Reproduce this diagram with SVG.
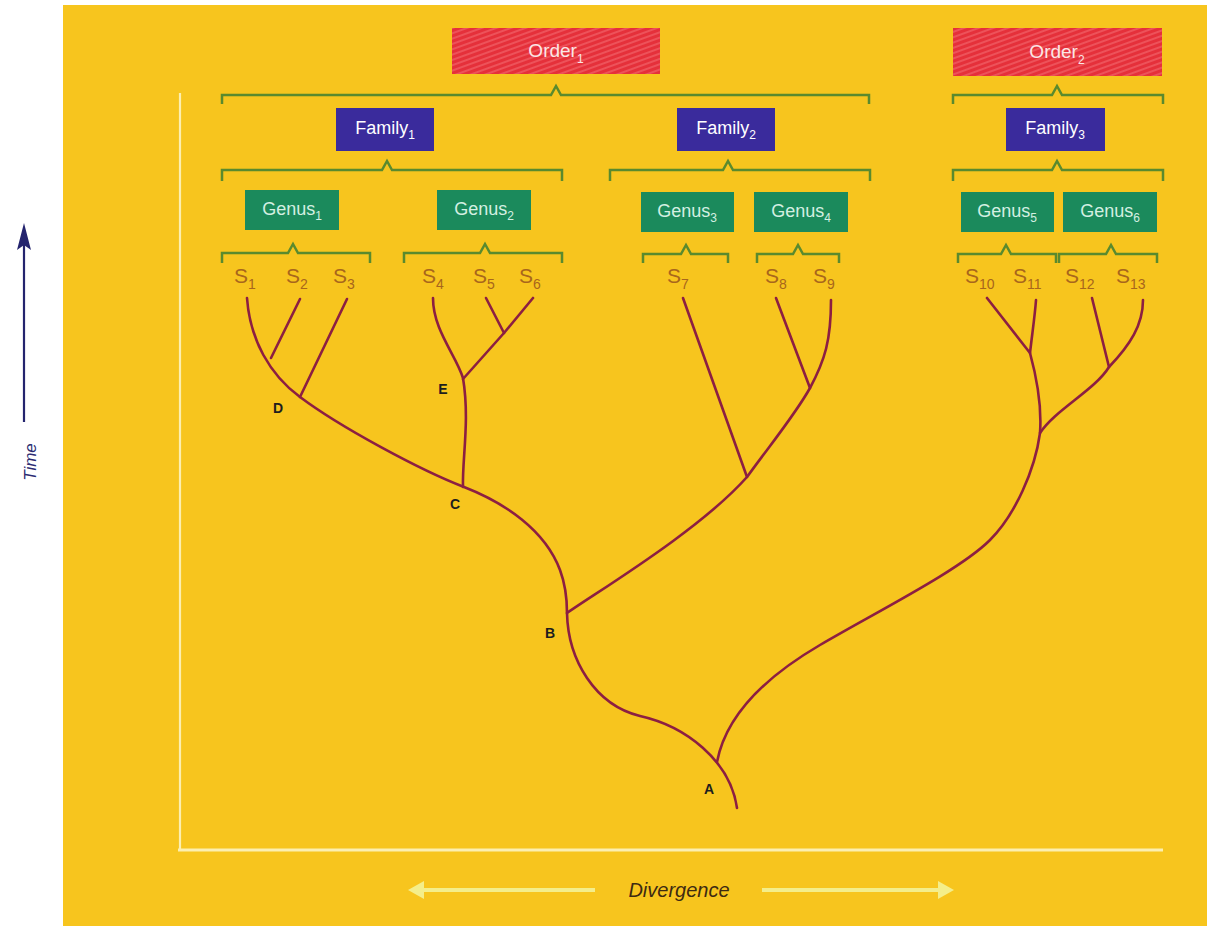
<svg xmlns="http://www.w3.org/2000/svg" width="1207" height="926" viewBox="0 0 1207 926">
<style>
.bg{fill:#f7c51e}
.order{fill:url(#hatch)}
.fam{fill:#3a2b9c}
.gen{fill:#1b8a5c}
.lbl{font-family:"Liberation Sans",Arial,sans-serif;font-size:18px;text-anchor:middle}
.ot{fill:#fbe6e6;font-size:19px}
.ft{fill:#ffffff}
.gt{fill:#d4f0e2}
.sub{font-size:12px}
.sp{font-family:"Liberation Sans",Arial,sans-serif;font-size:21px;fill:#a8661c}
.ssub{font-size:14px}
.br{fill:none;stroke:#5a8a2e;stroke-width:2.5;stroke-linejoin:miter}
.tr{fill:none;stroke:#8c1f42;stroke-width:2.6;stroke-linecap:round;stroke-linejoin:round}
.nd{font-family:"Liberation Sans",Arial,sans-serif;font-size:14px;font-weight:bold;fill:#1e1e1e;text-anchor:middle}
.ax{stroke:#fcefb0;fill:none}
</style>
<defs>
<pattern id="hatch" width="5" height="5" patternUnits="userSpaceOnUse" patternTransform="rotate(-20)">
<rect width="5" height="5" fill="#e5303a"/>
<line x1="0" y1="1" x2="5" y2="1" stroke="#f2656b" stroke-width="1.3"/>
</pattern>
<marker id="tah" markerWidth="14" markerHeight="26" refX="7" refY="2" orient="auto-start-reverse" markerUnits="userSpaceOnUse" viewBox="0 0 14 26">
<path d="M7,0 L14,26 L7,22 L0,26 Z" fill="#24246e"/>
</marker>
</defs>
<rect x="0" y="0" width="1207" height="926" fill="#ffffff"/>
<rect class="bg" x="63" y="5" width="1144" height="921"/>

<g id="axes">
<line class="ax" x1="180" y1="93" x2="180" y2="850" stroke-width="2.2"/>
<line class="ax" x1="178" y1="850" x2="1163" y2="850" stroke-width="3"/>
</g>

<g id="time-axis">
<line x1="24" y1="422" x2="24" y2="240" stroke="#24246e" stroke-width="2.2"/>
<path d="M24,223 L31,250 L24,245 L17,250 Z" fill="#24246e"/>
<text x="0" y="0" transform="translate(36,462) rotate(-90)" font-family="Liberation Sans,Arial,sans-serif" font-size="17" font-style="italic" fill="#2b2b72" text-anchor="middle">Time</text>
</g>

<g id="divergence-axis">
<line x1="420" y1="890" x2="595" y2="890" stroke="#f4ee8a" stroke-width="4"/>
<line x1="762" y1="890" x2="942" y2="890" stroke="#f4ee8a" stroke-width="4"/>
<path d="M408,890 L424,881 L424,899 Z" fill="#f4ee8a"/>
<path d="M954,890 L938,881 L938,899 Z" fill="#f4ee8a"/>
<text x="679" y="897" font-family="Liberation Sans,Arial,sans-serif" font-size="20" font-style="italic" fill="#3d2a12" text-anchor="middle">Divergence</text>
</g>

<g id="order1"><rect class="order" x="452" y="28" width="208" height="46"/><text class="lbl ot" x="556" y="57">Order<tspan class="sub" dy="6">1</tspan></text></g>
<g id="order2"><rect class="order" x="953" y="28" width="209" height="48"/><text class="lbl ot" x="1057" y="58">Order<tspan class="sub" dy="6">2</tspan></text></g>

<g id="family1"><rect class="fam" x="336" y="108" width="98" height="43"/><text class="lbl ft" x="385" y="134">Family<tspan class="sub" dy="5">1</tspan></text></g>
<g id="family2"><rect class="fam" x="677" y="108" width="98" height="43"/><text class="lbl ft" x="726" y="134">Family<tspan class="sub" dy="5">2</tspan></text></g>
<g id="family3"><rect class="fam" x="1006" y="108" width="99" height="43"/><text class="lbl ft" x="1055" y="134">Family<tspan class="sub" dy="5">3</tspan></text></g>

<g id="genus1"><rect class="gen" x="245" y="190" width="94" height="40"/><text class="lbl gt" x="292" y="215">Genus<tspan class="sub" dy="5">1</tspan></text></g>
<g id="genus2"><rect class="gen" x="437" y="190" width="94" height="40"/><text class="lbl gt" x="484" y="215">Genus<tspan class="sub" dy="5">2</tspan></text></g>
<g id="genus3"><rect class="gen" x="641" y="192" width="93" height="40"/><text class="lbl gt" x="687" y="217">Genus<tspan class="sub" dy="5">3</tspan></text></g>
<g id="genus4"><rect class="gen" x="754" y="192" width="94" height="40"/><text class="lbl gt" x="801" y="217">Genus<tspan class="sub" dy="5">4</tspan></text></g>
<g id="genus5"><rect class="gen" x="961" y="192" width="93" height="40"/><text class="lbl gt" x="1007" y="217">Genus<tspan class="sub" dy="5">5</tspan></text></g>
<g id="genus6"><rect class="gen" x="1063" y="192" width="94" height="40"/><text class="lbl gt" x="1110" y="217">Genus<tspan class="sub" dy="5">6</tspan></text></g>

<g id="species">
<text class="sp" x="234" y="283">S<tspan class="ssub" dy="6">1</tspan></text>
<text class="sp" x="286" y="283">S<tspan class="ssub" dy="6">2</tspan></text>
<text class="sp" x="333" y="283">S<tspan class="ssub" dy="6">3</tspan></text>
<text class="sp" x="422" y="283">S<tspan class="ssub" dy="6">4</tspan></text>
<text class="sp" x="473" y="283">S<tspan class="ssub" dy="6">5</tspan></text>
<text class="sp" x="519" y="283">S<tspan class="ssub" dy="6">6</tspan></text>
<text class="sp" x="667" y="283">S<tspan class="ssub" dy="6">7</tspan></text>
<text class="sp" x="765" y="283">S<tspan class="ssub" dy="6">8</tspan></text>
<text class="sp" x="813" y="283">S<tspan class="ssub" dy="6">9</tspan></text>
<text class="sp" x="965" y="283">S<tspan class="ssub" dy="6">10</tspan></text>
<text class="sp" x="1013" y="283">S<tspan class="ssub" dy="6">11</tspan></text>
<text class="sp" x="1065" y="283">S<tspan class="ssub" dy="6">12</tspan></text>
<text class="sp" x="1116" y="283">S<tspan class="ssub" dy="6">13</tspan></text>
</g>

<g id="nodes">
<text class="nd" x="278" y="413">D</text>
<text class="nd" x="443" y="394">E</text>
<text class="nd" x="455" y="509">C</text>
<text class="nd" x="550" y="638">B</text>
<text class="nd" x="709" y="794">A</text>
</g>

<g id="connectors">
<g id="brackets">
<path class="br" d="M222,104 L222,95 L551,95 L556,86 L561,95 L869,95 L869,104"/>
<path class="br" d="M953,104 L953,95 L1052,95 L1057,86 L1062,95 L1163,95 L1163,104"/>
<path class="br" d="M222,181 L222,170 L382,170 L387,161 L392,170 L562,170 L562,181"/>
<path class="br" d="M610,181 L610,170 L723,170 L728,161 L733,170 L870,170 L870,181"/>
<path class="br" d="M953,181 L953,170 L1052,170 L1057,161 L1062,170 L1163,170 L1163,181"/>
<path class="br" d="M222,263 L222,253 L288,253 L293,244 L298,253 L370,253 L370,263"/>
<path class="br" d="M404,263 L404,253 L480,253 L485,244 L490,253 L562,253 L562,263"/>
<path class="br" d="M643,263 L643,254 L681,254 L686,245 L691,254 L728,254 L728,263"/>
<path class="br" d="M757,263 L757,254 L793,254 L798,245 L803,254 L839,254 L839,263"/>
<path class="br" d="M958,263 L958,254 L1001,254 L1006,245 L1011,254 L1056,254 L1056,263"/>
<path class="br" d="M1059,263 L1059,254 L1106,254 L1111,245 L1116,254 L1157,254 L1157,263"/>
</g>
<g id="tree">
<path class="tr" d="M247,298 C250,340 270,375 300,397 C340,427 420,470 464,487 C505,503 545,530 560,570 C566,586 567,600 567,613 C568,660 595,705 640,716 C685,726 730,760 737,808"/>
<path class="tr" d="M300,299 L271,358"/>
<path class="tr" d="M347,299 L300,397"/>
<path class="tr" d="M463,487 C462,460 470,420 463,378 C456,355 433,330 433,298"/>
<path class="tr" d="M463,379 L504,333 L533,298"/>
<path class="tr" d="M486,298 L504,333"/>
<path class="tr" d="M567,613 C600,590 700,530 747,477 C770,445 795,415 810,388 C825,360 831,340 831,300"/>
<path class="tr" d="M683,298 L747,477"/>
<path class="tr" d="M776,298 L810,388"/>
<path class="tr" d="M717,762 C725,720 760,680 820,645 C880,610 960,570 990,540 C1015,515 1035,470 1040,433 C1042,405 1036,375 1030,353 C1032,335 1035,315 1036,300"/>
<path class="tr" d="M987,298 L1030,353"/>
<path class="tr" d="M1040,433 C1055,410 1095,390 1109,367 C1130,345 1143,325 1143,300"/>
<path class="tr" d="M1092,298 L1109,367"/>
</g>
</g>
</svg>
